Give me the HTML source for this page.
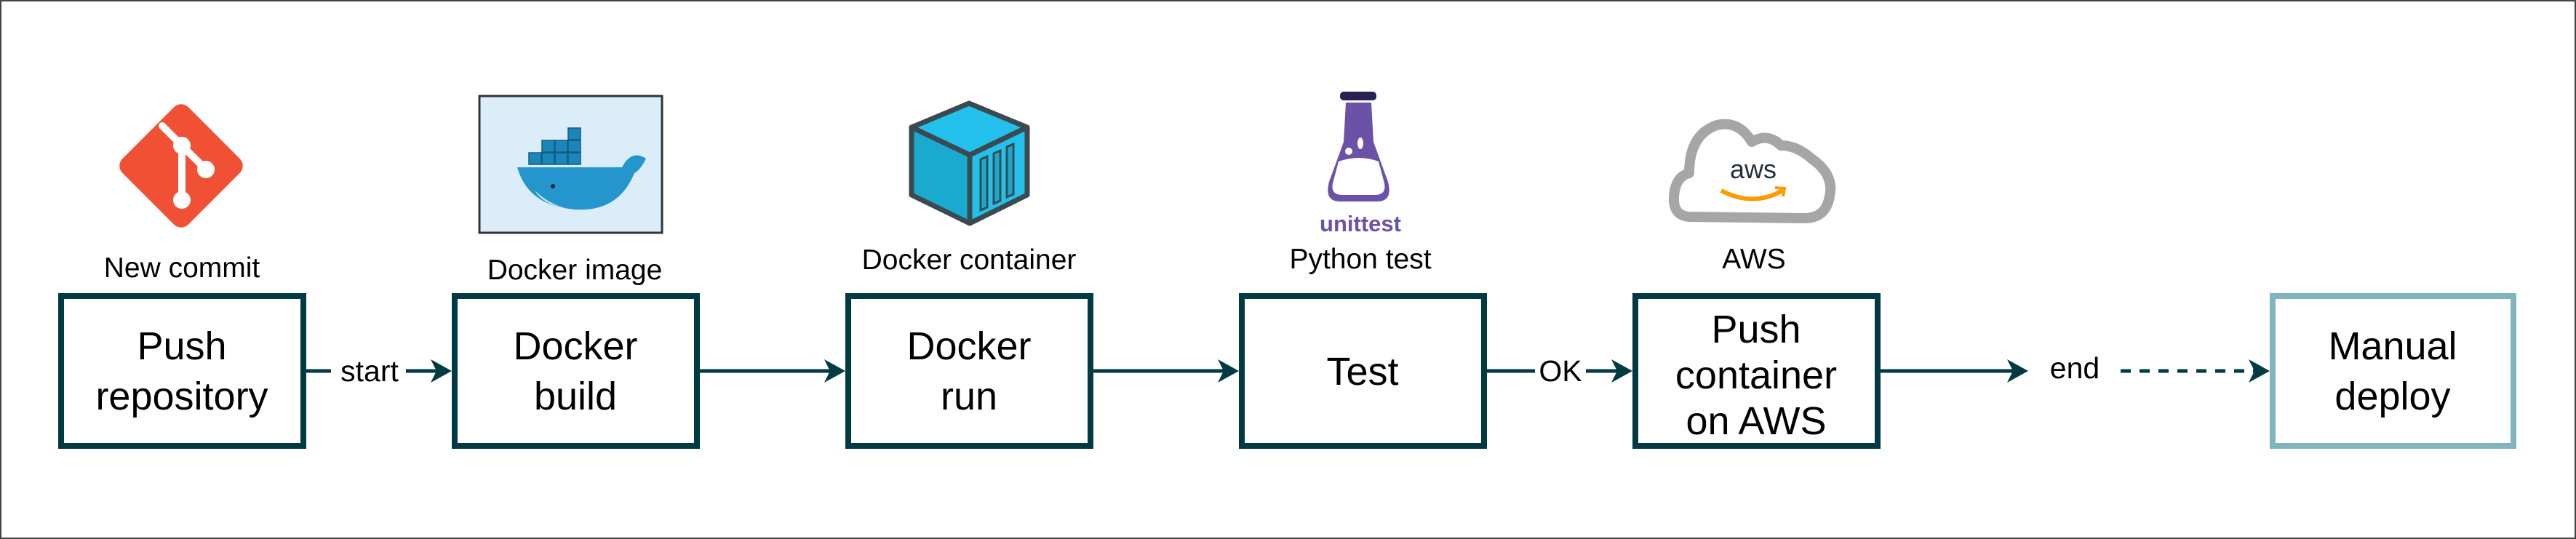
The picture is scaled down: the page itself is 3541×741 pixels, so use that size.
<!DOCTYPE html>
<html><head><meta charset="utf-8"><style>
html,body{margin:0;padding:0;background:#fff}
svg{display:block}
text{font-family:"Liberation Sans",sans-serif;fill:#000}
</style></head><body>
<svg width="3541" height="741" viewBox="0 0 3541 741" xmlns="http://www.w3.org/2000/svg">
<rect x="1" y="1" width="3539" height="739" fill="#fff" stroke="#444" stroke-width="2"/>

<!-- git icon -->
<g transform="translate(249,228) rotate(45)">
<rect x="-64" y="-64" width="128" height="128" rx="14" fill="#f05033"/>
</g>
<g stroke="#fff" stroke-width="10" fill="none" stroke-linecap="round">
<line x1="223" y1="173" x2="250" y2="200"/>
<line x1="250" y1="200" x2="250" y2="275"/>
<line x1="250" y1="200" x2="283" y2="233"/>
</g>
<circle cx="250" cy="200" r="12" fill="#fff"/>
<circle cx="283" cy="233" r="12" fill="#fff"/>
<circle cx="250" cy="275" r="12" fill="#fff"/>

<!-- docker image -->
<rect x="659" y="132" width="251" height="188" fill="#dbedf8" stroke="#333" stroke-width="3"/>
<g fill="#1d86b8" stroke="#0e5d82" stroke-width="1.5">
<rect x="727" y="210" width="17" height="16"/><rect x="745" y="210" width="17" height="16"/><rect x="763" y="210" width="17" height="16"/><rect x="781" y="210" width="17" height="16"/>
<rect x="745" y="193" width="17" height="16"/><rect x="763" y="193" width="17" height="16"/><rect x="781" y="193" width="17" height="16"/>
<rect x="781" y="176" width="17" height="16"/>
</g>
<path d="M711 230 L855 230 Q868 205 888 218 Q880 234 872 238 Q850 292 790 288 Q726 283 711 230 Z" fill="#2496cd"/>
<path d="M735 262 Q760 286 790 288 Q750 285 735 262 Z" fill="#dff1f7"/>
<circle cx="760" cy="256" r="3" fill="#123"/>

<!-- docker container cube -->
<g stroke="#3a4a50" stroke-width="7" stroke-linejoin="round">
<polygon points="1332,142 1412,175 1333,213 1253,175" fill="#22c0ea"/>
<polygon points="1253,175 1333,213 1333,307 1253,268" fill="#1aa9cf"/>
<polygon points="1333,213 1412,175 1412,268 1333,307" fill="#22c0ea"/>
</g>
<g fill="#1aa9cf" stroke="#3a4a50" stroke-width="3">
<polygon points="1348,219 1357,215 1357,285 1348,289"/>
<polygon points="1366,211 1375,207 1375,276 1366,280"/>
<polygon points="1384,202 1393,198 1393,267 1384,271"/>
</g>

<!-- flask -->
<rect x="1842" y="126" width="50" height="12" rx="5" fill="#2b2052"/>
<path d="M1850 141 L1885 141 L1888 195 L1908 250 Q1915 277 1893 277 L1842 277 Q1820 277 1827 250 L1847 195 Z" fill="#6b52a6"/>
<path d="M1840 222 Q1868 212 1895 222 L1903 252 Q1906 268 1890 268 L1845 268 Q1829 268 1832 252 Z" fill="#fff"/>
<circle cx="1854" cy="208" r="5" fill="#fff"/>
<ellipse cx="1870" cy="197" rx="4" ry="8" fill="#fff"/>
<text x="1870" y="318" text-anchor="middle" font-size="31" font-weight="bold" style="fill:#6b52a6">unittest</text>

<!-- aws cloud -->
<path d="M2322 298 Q2296 296 2302 262 Q2306 242 2322 238 Q2322 185 2360 172 Q2390 165 2408 195 Q2430 182 2448 200 Q2470 200 2490 218 Q2522 240 2515 270 Q2510 300 2480 300 Z" fill="#fff" stroke="#a6a6a6" stroke-width="14" stroke-linejoin="round"/>
<text x="2410" y="245" text-anchor="middle" font-size="36" style="fill:#232f3e">aws</text>
<path d="M2366 262 Q2410 285 2450 262" fill="none" stroke="#f90" stroke-width="6"/>
<path d="M2440 258 L2453 259 L2451 270" fill="none" stroke="#f90" stroke-width="4"/>

<!-- labels above -->
<g font-size="39" text-anchor="middle">
<text x="250" y="381">New commit</text>
<text x="790" y="384">Docker image</text>
<text x="1332" y="370">Docker container</text>
<text x="1870" y="369">Python test</text>
<text x="2411" y="369">AWS</text>
</g>

<!-- boxes -->
<g fill="#fff" stroke="#003a42" stroke-width="8">
<rect x="84" y="407" width="333" height="206"/>
<rect x="625" y="407" width="333" height="206"/>
<rect x="1166" y="407" width="333" height="206"/>
<rect x="1707" y="407" width="333" height="206"/>
<rect x="2248" y="407" width="333" height="206"/>
</g>
<rect x="3124" y="407" width="331" height="206" fill="#fff" stroke="#80b5bd" stroke-width="8"/>

<g font-size="54" text-anchor="middle">
<text x="250" y="494">Push</text><text x="250" y="563">repository</text>
<text x="791" y="494">Docker</text><text x="791" y="563">build</text>
<text x="1332" y="494">Docker</text><text x="1332" y="563">run</text>
<text x="1873" y="529">Test</text>
<text x="2414" y="471">Push</text><text x="2414" y="534">container</text><text x="2414" y="597">on AWS</text>
<text x="3289" y="494">Manual</text><text x="3289" y="563">deploy</text>
</g>

<!-- connectors -->
<g stroke="#003a42" stroke-width="5" fill="none">
<line x1="421" y1="510" x2="455" y2="510"/>
<line x1="558" y1="510" x2="605" y2="510"/>
<line x1="962" y1="510" x2="1145" y2="510"/>
<line x1="1503" y1="510" x2="1686" y2="510"/>
<line x1="2044" y1="510" x2="2110" y2="510"/>
<line x1="2180" y1="510" x2="2225" y2="510"/>
<line x1="2585" y1="510" x2="2770" y2="510"/>
<line x1="2915" y1="510" x2="3100" y2="510" stroke-dasharray="14 12"/>
</g>
<g fill="#003a42">
<path d="M621 510 L592 494 L600 510 L592 526 Z"/>
<path d="M1162 510 L1133 494 L1141 510 L1133 526 Z"/>
<path d="M1703 510 L1674 494 L1682 510 L1674 526 Z"/>
<path d="M2244 510 L2215 494 L2223 510 L2215 526 Z"/>
<path d="M2788 510 L2759 494 L2767 510 L2759 526 Z"/>
<path d="M3120 510 L3091 494 L3099 510 L3091 526 Z"/>
</g>
<g font-size="41" text-anchor="middle">
<text x="508" y="524">start</text>
<text x="2145" y="524">OK</text>
<text x="2852" y="520">end</text>
</g>
</svg>
</body></html>
